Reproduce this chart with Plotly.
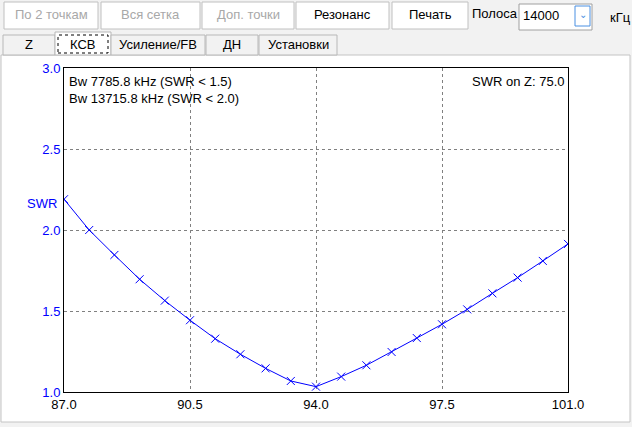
import plotly.graph_objects as go

# SWR sweep, MHz
freq = [87.0, 87.7, 88.4, 89.1, 89.8, 90.5, 91.2, 91.9, 92.6, 93.3, 94.0,
        94.7, 95.4, 96.1, 96.8, 97.5, 98.2, 98.9, 99.6, 100.3, 101.0]
swr = [2.19, 2.00, 1.846, 1.696, 1.564, 1.443, 1.329, 1.233, 1.146, 1.068, 1.033,
       1.095, 1.165, 1.247, 1.333, 1.418, 1.510, 1.609, 1.706, 1.809, 1.914]

x_ticks = [87.0, 90.5, 94.0, 97.5, 101.0]
y_ticks = [1.0, 1.5, 2.0, 2.5, 3.0]

bw_lines = ["Bw 7785.8 kHz (SWR < 1.5)", "Bw 13715.8 kHz (SWR < 2.0)"]
swr_on_z = "SWR on Z: 75.0"

buttons = [("По 2 точкам", False), ("Вся сетка", False), ("Доп. точки", False),
           ("Резонанс", True), ("Печать", True)]
tabs = ["Z", "КСВ", "Усиление/FB", "ДН", "Установки"]
band = "14000"

W, H = 632, 427
L, R, T, B = 64, 568, 68, 392
FONT = "Liberation Sans, Arial, sans-serif"


def px(x):
    return (x - L) / (R - L)


def py(y):
    return (B - y) / (B - T)


def rect(x0, y0, x1, y1, fill="white", line="#b8b8b8", width=1, dash=None):
    return dict(type="rect", xref="paper", yref="paper",
                x0=px(x0), x1=px(x1), y0=py(y1), y1=py(y0),
                fillcolor=fill, line=dict(color=line, width=width, dash=dash),
                layer="below")


def label(x, y, text, color="black", size=13, xanchor="center", yanchor="middle"):
    return dict(xref="paper", yref="paper", x=px(x), y=py(y), text=text,
                showarrow=False, xanchor=xanchor, yanchor=yanchor,
                font=dict(family=FONT, size=size, color=color))


fig = go.Figure()

fig.add_trace(go.Scatter(
    x=freq, y=swr, mode="lines+markers",
    line=dict(color="blue", width=1),
    marker=dict(symbol="x-thin", size=8, line=dict(color="blue", width=1)),
    hoverinfo="x+y",
))

shapes = []
annotations = []

# panel behind the plot
shapes.append(rect(1, 55, 630, 422, fill="white", line="#c4c4c4"))

# toolbar buttons
btn_x = [(4, 98), (101, 200), (202, 294), (296, 389), (392, 468)]
for (text, enabled), (x0, x1) in zip(buttons, btn_x):
    shapes.append(rect(x0, 2, x1, 29, fill="white", line="#c0c0c0"))
    annotations.append(label((x0 + x1) / 2, 15, text,
                             color="black" if enabled else "#a8a8a8"))

annotations.append(label(470, 14, "Полоса", xanchor="left"))
shapes.append(rect(519, 4, 592, 30, fill="white", line="#a0a0a0"))
annotations.append(label(521, 16, band, xanchor="left"))
shapes.append(rect(575, 6, 590, 26, fill="white", line="#4a90e2"))
annotations.append(label(582.5, 15, "⌄", color="#4a90e2", size=10))
annotations.append(label(608, 18, "кГц", xanchor="left"))

# tabs
tab_x = [(3, 55), (55, 111), (111, 205), (206, 258), (259, 337)]
for i, (text, (x0, x1)) in enumerate(zip(tabs, tab_x)):
    top = 32 if i == 1 else 35
    shapes.append(rect(x0, top, x1, 55, fill="white" if i == 1 else "#f2f2f2",
                       line="#b8b8b8"))
    annotations.append(label((x0 + x1) / 2, 44.5, text))
shapes.append(rect(58, 35, 108, 53, fill="rgba(0,0,0,0)", line="black", dash="dot"))

# texts on the graph
annotations.append(label(67, 72, bw_lines[0] + "<br>" + bw_lines[1],
                         xanchor="left", yanchor="top"))
annotations[-1]["align"] = "left"
annotations.append(label(566, 82, swr_on_z, xanchor="right"))
annotations.append(label(42, 203, "SWR", color="blue"))

fig.update_layout(
    width=W, height=H,
    margin=dict(l=L, r=W - R, t=T, b=H - B),
    paper_bgcolor="#f2f2f2",
    plot_bgcolor="white",
    showlegend=False,
    font=dict(family=FONT, size=13, color="black"),
    shapes=shapes,
    annotations=annotations,
    xaxis=dict(range=[87, 101], tickvals=x_ticks, tickformat=".1f",
               showgrid=True, gridcolor="#808080", griddash="3px,3px", gridwidth=1,
               showline=True, linecolor="black", linewidth=1, mirror=True,
               zeroline=False, ticks="", tickfont=dict(color="black", size=13)),
    yaxis=dict(range=[1, 3], tickvals=y_ticks, tickformat=".1f",
               showgrid=True, gridcolor="#808080", griddash="3px,3px", gridwidth=1,
               showline=True, linecolor="black", linewidth=1, mirror=True,
               zeroline=False, ticks="", tickfont=dict(color="blue", size=13)),
)

# the page body has a default 8px margin; drop it so the figure fills the window
fig.write_html("out.html", config={"displayModeBar": False},
               post_script="document.body.style.margin='0';")
